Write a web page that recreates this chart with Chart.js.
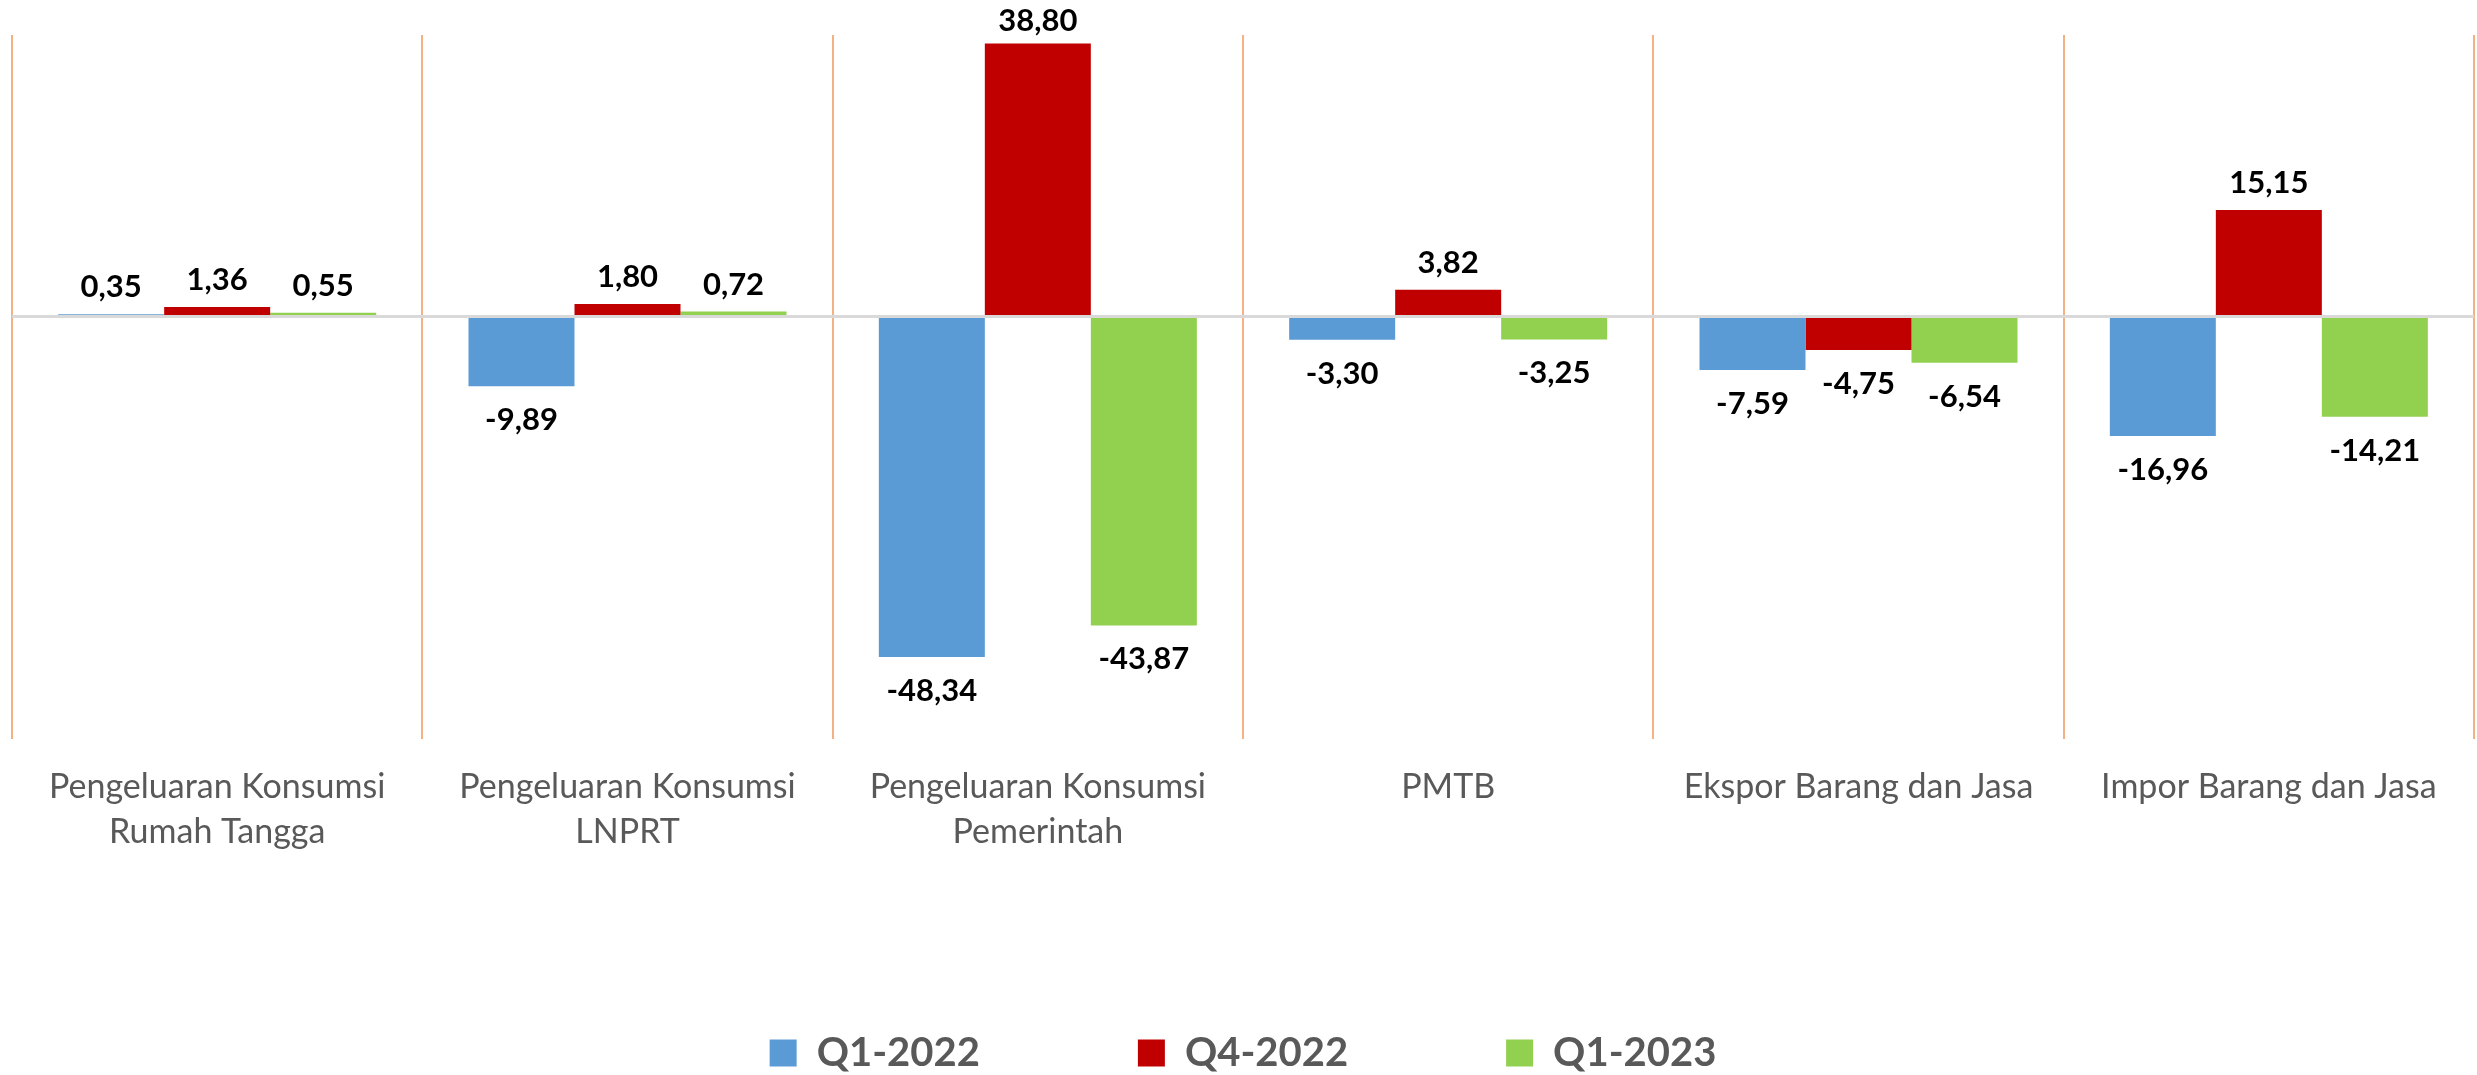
<!DOCTYPE html>
<html>
<head>
<meta charset="utf-8">
<title>Pertumbuhan Komponen PDB</title>
<script src="https://cdn.jsdelivr.net/npm/chart.js@4.4.0/dist/chart.umd.min.js"></script>
<style>
    html, body { margin: 0; padding: 0; background: #ffffff; }
    #chartBox { width: 2477px; height: 1075px; }
</style>
</head>
<body>
<div id="chartBox"><canvas id="growthChart" width="2477" height="1075"></canvas></div>
<script>
const categories = [
    ['Pengeluaran Konsumsi', 'Rumah Tangga'],
    ['Pengeluaran Konsumsi', 'LNPRT'],
    ['Pengeluaran Konsumsi', 'Pemerintah'],
    'PMTB',
    'Ekspor Barang dan Jasa',
    'Impor Barang dan Jasa'
];
const seriesNames = ['Q1-2022', 'Q4-2022', 'Q1-2023'];
const q1_2022 = [0.35, -9.89, -48.34, -3.30, -7.59, -16.96];
const q4_2022 = [1.36, 1.80, 38.80, 3.82, -4.75, 15.15];
const q1_2023 = [0.55, 0.72, -43.87, -3.25, -6.54, -14.21];
const seriesColors = ['#5B9BD5', '#C00000', '#92D050'];

// value labels at the outer end of each bar, written with a decimal comma
const valueLabels = {
    id: 'valueLabels',
    afterDatasetsDraw(chart) {
        const ctx = chart.ctx;
        ctx.save();
        ctx.font = 'bold 31px Lato';
        ctx.fillStyle = '#000000';
        ctx.textAlign = 'center';
        ctx.textBaseline = 'alphabetic';
        chart.data.datasets.forEach((ds, i) => {
            chart.getDatasetMeta(i).data.forEach((bar, j) => {
                const v = ds.data[j];
                const text = v.toFixed(2).replace('.', ',');
                let y = v >= 0 ? bar.y - 17 : bar.y + 44;
                if (y < 31) y = 31;
                ctx.fillText(text, bar.x, y);
            });
        });
        ctx.restore();
    }
};

function buildChart() {
    const ctx = document.getElementById('growthChart').getContext('2d');
    const allSeries = [q1_2022, q4_2022, q1_2023];

    return new Chart(ctx, {
        type: 'bar',
        data: {
            labels: categories,
            datasets: allSeries.map((values, i) => ({
                label: seriesNames[i],
                data: values,
                backgroundColor: seriesColors[i],
                borderWidth: 0,
                categoryPercentage: 0.775,
                barPercentage: 1.0
            }))
        },
        options: {
            responsive: false,
            devicePixelRatio: 1,
            animation: false,
            layout: {
                padding: { left: 12, right: 3, top: 35, bottom: -8 }
            },
            plugins: {
                tooltip: { enabled: false },
                legend: {
                    position: 'bottom',
                    labels: {
                        boxWidth: 27,
                        boxHeight: 27,
                        padding: 158,
                        color: '#595959',
                        font: { family: 'Lato', size: 40, weight: 'bold' }
                    }
                }
            },
            scales: {
                x: {
                    grid: {
                        offset: true,
                        color: '#F4B183',
                        lineWidth: 2,
                        drawTicks: false
                    },
                    border: { display: false },
                    ticks: {
                        autoSkip: false,
                        maxRotation: 0,
                        padding: 26,
                        color: '#595959',
                        font: { family: 'Lato', size: 34, lineHeight: 1.32 }
                    },
                    afterFit(scale) {
                        scale.height = 136;
                    }
                },
                y: {
                    min: -60,
                    max: 40,
                    grid: {
                        drawTicks: false,
                        lineWidth: 3,
                        color: c => (c.tick && c.tick.value === 0 ? '#D9D9D9' : 'rgba(0,0,0,0)')
                    },
                    border: { display: false },
                    ticks: { display: false, stepSize: 10 }
                }
            }
        },
        plugins: [valueLabels]
    });
}

let growthChart;
document.addEventListener('DOMContentLoaded', () => {
    growthChart = buildChart();
});
</script>
</body>
</html>
